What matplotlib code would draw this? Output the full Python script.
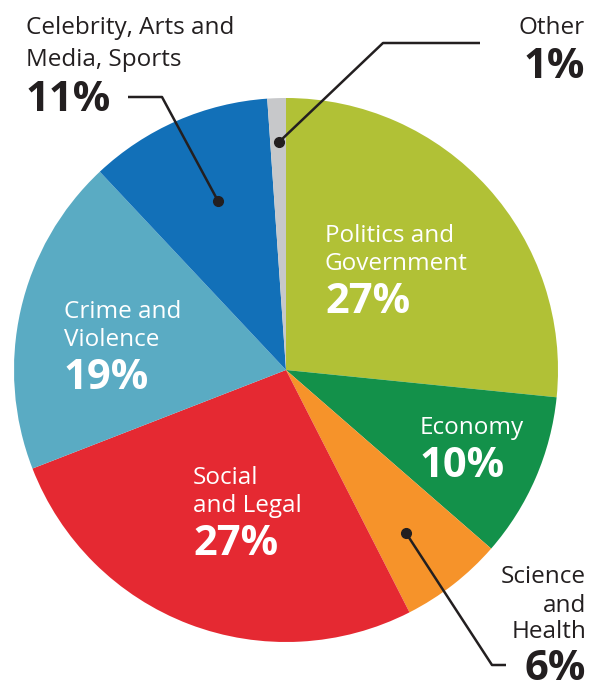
import matplotlib
matplotlib.use("Agg")
from matplotlib import pyplot as plt

# 各类别及其占比
categories = ["Politics and\nGovernment", "Economy", "Science\nand\nHealth",
              "Social\nand Legal", "Crime and\nViolence",
              "Celebrity, Arts and\nMedia, Sports", "Other"]
shares = [26.6, 9.8, 6.1, 26.6, 18.9, 10.9, 1.1]
pct_labels = ["27%", "10%", "6%", "27%", "19%", "11%", "1%"]
colors = ["#b1c136", "#13914a", "#f6932a", "#e52932", "#5aabc3", "#1270b8", "#c7c8ca"]

W, H = 590, 686
DARK = "#231f20"
plt.rcParams['font.family'] = ['Open Sans', 'DejaVu Sans']

fig = plt.figure(figsize=(W / 100, H / 100), dpi=100)
ax = fig.add_axes([0, 0, 1, 1])

def Y(py):
    # 像素坐标（自上而下）转为数据坐标
    return H - py

ax.pie(shares, colors=colors, startangle=90, counterclock=False,
       center=(286, Y(370)), radius=272, wedgeprops=dict(linewidth=0))
# pie会改写坐标范围，之后再设
ax.set_xlim(0, W)
ax.set_ylim(0, H)
ax.set_aspect('equal')
ax.axis('off')

def label(x, baselines, idx, pct_base, color, ha='left', size=17.5, psize=30):
    lines = categories[idx].split("\n")
    for ln, b in zip(lines, baselines):
        ax.text(x, Y(b), ln, color=color, fontsize=size, ha=ha, va='baseline')
    ax.text(x, Y(pct_base), pct_labels[idx], color=color, fontsize=psize,
            fontweight='bold', ha=ha, va='baseline')

# 饼内标签
label(325, [242, 270], 0, 313, 'white')
label(420, [434], 1, 477, 'white')
label(193, [484, 512], 3, 555, 'white')
label(64, [318, 346], 4, 389, 'white')

# 饼外标签
label(26, [34, 66], 5, 111, DARK)
label(585, [34], 6, 78, DARK, ha='right')
label(586, [583, 612, 638], 2, 680, DARK, ha='right')

# 引导线
leaders = [
    ([218, 162, 128], [201, 97, 97]),
    ([279, 383, 480], [142, 43, 43]),
    ([406, 492, 506], [533, 665, 665]),
]
for xs, ys in leaders:
    ax.plot(xs, [Y(v) for v in ys], color=DARK, linewidth=1.8, solid_capstyle='butt')
    ax.plot(xs[0], Y(ys[0]), 'o', color=DARK, markersize=7)

fig.savefig("out.png", dpi=100)
